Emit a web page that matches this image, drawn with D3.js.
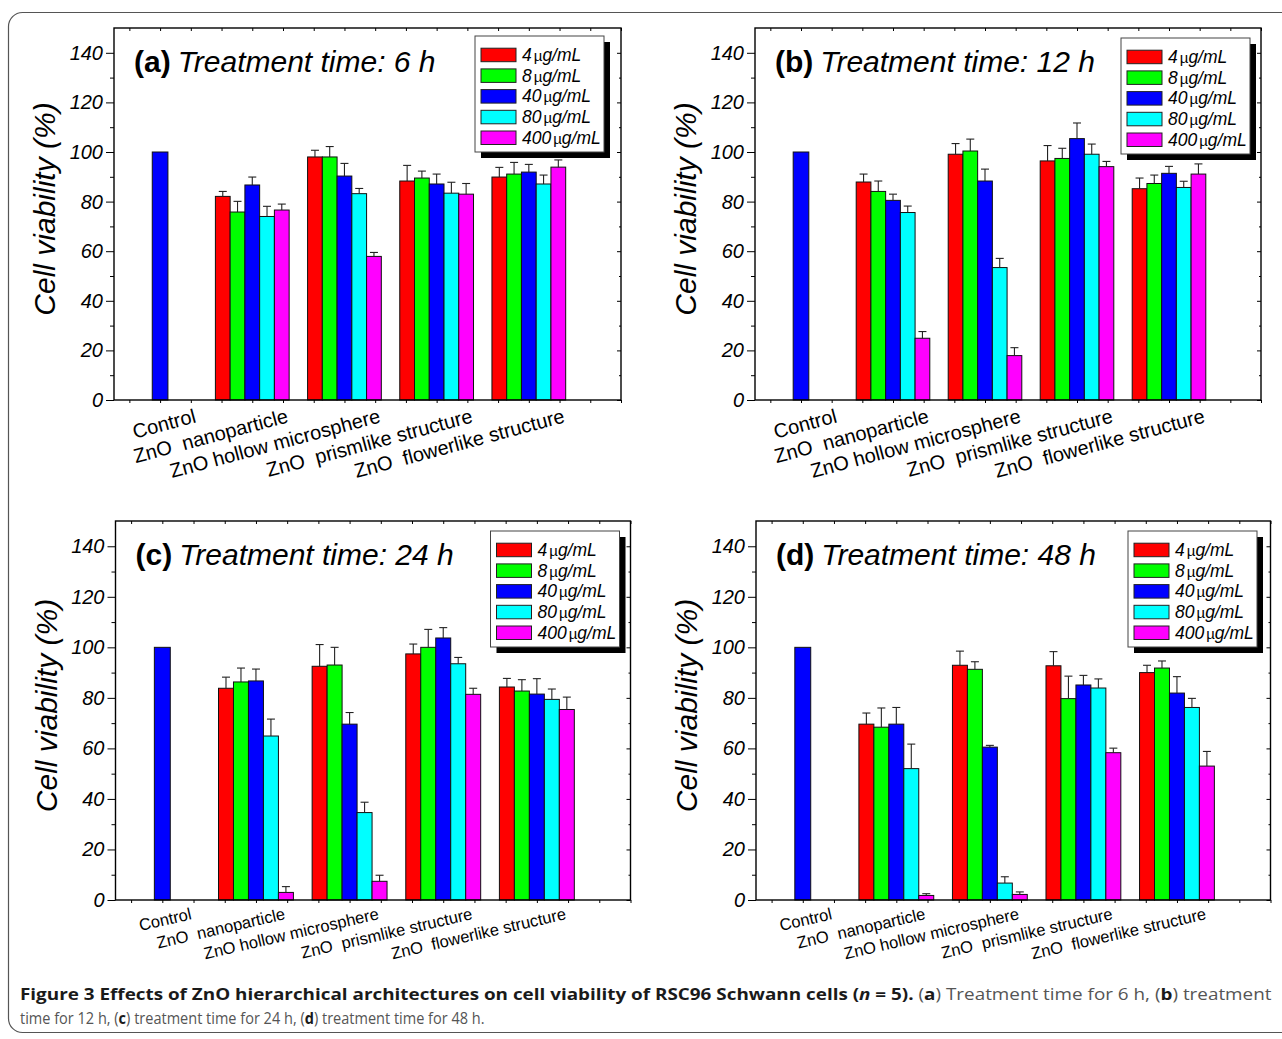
<!DOCTYPE html>
<html>
<head>
<meta charset="utf-8">
<script src="https://cdn.jsdelivr.net/npm/d3@7"></script>
<style>
  body { margin: 0; background: #fff; }
  text { font-family: "Liberation Sans", Arial, sans-serif; }
</style>
</head>
<body>
<svg id="fig" width="1282" height="1039"></svg>
<script>
// ---- data ----
const categories = ["Control", "ZnO  nanoparticle", "ZnO hollow microsphere", "ZnO  prismlike structure", "ZnO  flowerlike structure"];
const doses = ["4", "8", "40", "80", "400"];
const times = ["6", "12", "24", "48"];
const panelLetters = ["a", "b", "c", "d"];
const controlValue = 100;
const yTicks = [0, 20, 40, 60, 80, 100, 120, 140];

// rows: nanoparticle, hollow microsphere, prismlike, flowerlike ; columns: doses
const viability6h = [
  [82.1, 75.8, 86.7, 74.0, 76.6],
  [98.0, 98.0, 90.3, 83.2, 57.9],
  [88.3, 89.5, 87.1, 83.4, 83.0],
  [89.9, 91.1, 91.9, 87.1, 93.9]
];
const sd6h = [
  [2.0, 4.3, 3.2, 4.1, 2.4],
  [2.7, 4.2, 5.1, 2.1, 1.6],
  [6.3, 2.8, 4.0, 4.4, 4.3],
  [3.9, 4.7, 3.1, 3.6, 2.9]
];
const viability12h = [
  [87.9, 84.1, 80.5, 75.6, 24.9],
  [99.1, 100.4, 88.3, 53.4, 17.9],
  [96.4, 97.4, 105.4, 99.1, 94.1],
  [85.2, 87.3, 91.4, 85.7, 91.1]
];
const sd12h = [
  [3.2, 4.2, 2.5, 2.6, 2.7],
  [4.3, 4.8, 4.8, 3.7, 3.2],
  [6.2, 4.1, 6.3, 4.1, 2.1],
  [4.3, 3.4, 2.8, 2.5, 4.1]
];
const viability24h = [
  [83.8, 86.3, 86.7, 64.9, 3.0],
  [92.5, 93.0, 69.6, 34.6, 7.4],
  [97.4, 100.0, 103.7, 93.5, 81.4],
  [84.3, 82.7, 81.5, 79.4, 75.4]
];
const sd24h = [
  [4.4, 5.5, 4.7, 6.7, 2.3],
  [8.6, 7.0, 4.6, 4.1, 2.4],
  [3.9, 7.1, 4.1, 2.5, 2.4],
  [3.4, 4.5, 6.1, 4.1, 4.9]
];
const viability48h = [
  [69.6, 68.4, 69.6, 52.0, 1.8],
  [92.9, 91.3, 60.5, 6.7, 2.2],
  [92.7, 79.7, 85.1, 83.9, 58.3],
  [90.0, 91.8, 81.9, 76.2, 53.0]
];
const sd48h = [
  [4.4, 7.6, 6.6, 9.7, 0.7],
  [5.6, 3.0, 0.7, 2.5, 1.0],
  [5.6, 8.9, 3.8, 3.6, 1.8],
  [2.9, 2.8, 6.5, 3.6, 5.8]
];

const doseColors = ["#ff0000", "#00ff00", "#0000ff", "#00ffff", "#ff00ff"];
const controlColor = "#0000ff";

// ---- layout ----
const panels = [
  { values: viability6h,  sd: sd6h,  left: 114,   right: 621,    top: 28,  bottom: 400, lab: 20, ang: -15, labDx: 37, labDy: 22, legX: 361, legY: 8 },
  { values: viability12h, sd: sd12h, left: 755,   right: 1261,   top: 28,  bottom: 400, lab: 20, ang: -15, labDx: 37, labDy: 22, legX: 366, legY: 10 },
  { values: viability24h, sd: sd24h, left: 115.5, right: 630.5,  top: 521, bottom: 900, lab: 16.5, ang: -13, labDx: 30, labDy: 19, legX: 375, legY: 10 },
  { values: viability48h, sd: sd48h, left: 756,   right: 1270.5, top: 521, bottom: 900, lab: 16.5, ang: -13, labDx: 30, labDy: 19, legX: 372, legY: 10 }
];

const svg = d3.select("#fig");

// outer frame
svg.append("rect")
  .attr("x", 8.5).attr("y", 12.5)
  .attr("width", 1300).attr("height", 1020)
  .attr("rx", 14).attr("ry", 14)
  .attr("fill", "none").attr("stroke", "#555").attr("stroke-width", 1.2);

const barW = 0.16;

panels.forEach(function(p, k) {
  const g = svg.append("g");
  const x = d3.scaleLinear().domain([0.5, 6]).range([p.left, p.right]);
  const y = d3.scaleLinear().domain([0, 150]).range([p.bottom, p.top]);

  // bars
  const bars = [];
  bars.push({ pos: 1, v: controlValue, e: 0, color: controlColor, w: 0.17 });
  p.values.forEach(function(row, i) {
    row.forEach(function(v, j) {
      bars.push({ pos: i + 2 + (j - 2) * barW, v: v, e: p.sd[i][j], color: doseColors[j], w: barW });
    });
  });

  g.selectAll("rect.bar").data(bars).join("rect")
    .attr("class", "bar")
    .attr("x", d => x(d.pos - d.w / 2))
    .attr("width", d => x(d.pos + d.w / 2) - x(d.pos - d.w / 2))
    .attr("y", d => y(d.v))
    .attr("height", d => y(0) - y(d.v))
    .attr("fill", d => d.color)
    .attr("stroke", "#111").attr("stroke-width", 1);

  // error bars (upper only)
  const eb = bars.filter(d => d.e > 0);
  g.selectAll("line.err").data(eb).join("line")
    .attr("x1", d => x(d.pos)).attr("x2", d => x(d.pos))
    .attr("y1", d => y(d.v)).attr("y2", d => y(d.v + d.e))
    .attr("stroke", "#222").attr("stroke-width", 1.1);
  g.selectAll("line.cap").data(eb).join("line")
    .attr("x1", d => x(d.pos) - 4).attr("x2", d => x(d.pos) + 4)
    .attr("y1", d => y(d.v + d.e)).attr("y2", d => y(d.v + d.e))
    .attr("stroke", "#222").attr("stroke-width", 1.1);

  // axes
  const minorY = d3.range(10, 150, 20);
  const xTicks = d3.range(2, 19).map(n => n / 3);

  const left = g.append("g").attr("transform", `translate(${p.left},0)`)
    .call(d3.axisLeft(y).tickValues(yTicks).tickSize(8).tickPadding(3).tickFormat(d3.format("d")));
  left.selectAll("text").attr("font-size", 20).attr("font-style", "italic").attr("fill", "#000");
  g.append("g").attr("transform", `translate(${p.left},0)`)
    .call(d3.axisLeft(y).tickValues(minorY).tickSize(4).tickFormat(""));
  g.append("g").attr("transform", `translate(${p.right},0)`)
    .call(d3.axisLeft(y).tickValues(yTicks).tickSize(4).tickFormat(""));
  g.append("g").attr("transform", `translate(${p.right},0)`)
    .call(d3.axisLeft(y).tickValues(minorY).tickSize(2).tickFormat(""));
  g.append("g").attr("transform", `translate(0,${p.bottom})`)
    .call(d3.axisBottom(x).tickValues(xTicks).tickSize(3).tickFormat(""));
  g.append("g").attr("transform", `translate(0,${p.top})`)
    .call(d3.axisBottom(x).tickValues(xTicks).tickSize(3).tickFormat(""));
  g.selectAll(".domain").remove();
  g.selectAll(".tick line").attr("stroke", "#000").attr("stroke-width", 1);

  g.append("rect")
    .attr("x", p.left).attr("y", p.top)
    .attr("width", p.right - p.left).attr("height", p.bottom - p.top)
    .attr("fill", "none").attr("stroke", "#000").attr("stroke-width", 1.4);

  // category labels
  g.selectAll("text.cat").data(categories).join("text")
    .attr("class", "cat")
    .attr("transform", (d, i) => `translate(${x(i + 1) + p.labDx},${p.bottom + p.labDy}) rotate(${p.ang})`)
    .attr("text-anchor", "end")
    .attr("font-size", p.lab)
    .style("white-space", "pre")
    .text(d => d);

  // y title
  g.append("text")
    .attr("transform", `translate(${p.left - 59},${(p.top + p.bottom) / 2 - 5}) rotate(-90)`)
    .attr("text-anchor", "middle")
    .attr("font-size", 30).attr("font-style", "italic")
    .text("Cell viability (%)");

  // panel title
  const t = g.append("text")
    .attr("x", p.left + 20).attr("y", p.top + 44)
    .attr("font-size", 30);
  t.append("tspan").attr("font-weight", "bold").text(`(${panelLetters[k]})`);
  t.append("tspan").attr("dx", 7).attr("font-style", "italic").text(`Treatment time: ${times[k]} h`);

  // legend
  const lx = p.left + p.legX, ly = p.top + p.legY, lw = 129, lh = 116;
  const lg = g.append("g");
  lg.append("rect").attr("x", lx + 6).attr("y", ly + 6).attr("width", lw).attr("height", lh).attr("fill", "#000");
  lg.append("rect").attr("x", lx).attr("y", ly).attr("width", lw).attr("height", lh)
    .attr("fill", "#fff").attr("stroke", "#444").attr("stroke-width", 1);
  doses.forEach(function(dose, j) {
    const cy = ly + 19 + j * 20.7;
    lg.append("rect").attr("x", lx + 6).attr("y", cy - 6.8).attr("width", 35).attr("height", 13.5)
      .attr("fill", doseColors[j]).attr("stroke", "#222").attr("stroke-width", 1);
    const lt = lg.append("text").attr("x", lx + 47).attr("y", cy + 6).attr("font-size", 17.5);
    lt.append("tspan").attr("font-style", "italic").text(dose);
    lt.append("tspan").attr("dx", 2).attr("font-size", 15).text("\u00b5");
    lt.append("tspan").attr("font-style", "italic").text("g/mL");
  });
});

// caption
function captionLine(yPos, parts, width) {
  const t = svg.append("text").attr("x", 0).attr("y", 0)
    .style("font-family", "'Open Sans', sans-serif").attr("font-size", 16.5);
  parts.forEach(function(pt) {
    const s = t.append("tspan").text(pt[0]);
    if (pt[1]) s.attr("font-weight", "bold").attr("fill", "#1a1a1a");
    else s.attr("fill", "#555");
    if (pt[2]) s.attr("font-style", "italic");
  });
  const len = t.node().getComputedTextLength();
  t.attr("transform", `translate(20,${yPos}) scale(${width / len},1)`);
}
captionLine(1000, [
  ["Figure 3 Effects of ZnO hierarchical architectures on cell viability of RSC96 Schwann cells (", true],
  ["n", true, true], [" = 5).", true],
  [" (", false], ["a", true], [") Treatment time for 6 h, (", false], ["b", true], [") treatment", false]
], 1252);
captionLine(1024, [
  ["time for 12 h, (", false], ["c", true], [") treatment time for 24 h, (", false], ["d", true], [") treatment time for 48 h.", false]
], 465);
</script>
</body>
</html>
